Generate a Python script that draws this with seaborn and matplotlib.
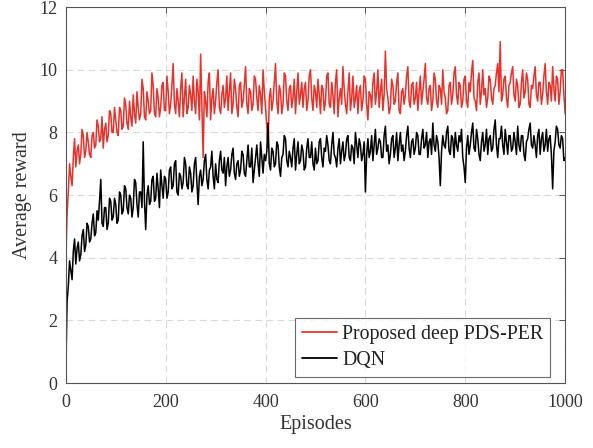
import numpy as np
import pandas as pd
import matplotlib
matplotlib.use("Agg")
import matplotlib.pyplot as plt
import seaborn as sns

# =========================
# DATA (un point toutes les 2.5 épisodes)
# =========================
episodes = [2.5 * i for i in range(401)]

reward_pds_per = [
    3.9, 5.4, 6.1, 7.0, 6.6, 6.3, 7.2, 7.8, 6.9, 7.4, 7.6, 7.0, 7.3, 8.1, 7.9, 7.2, 7.4, 8.0, 7.7, 7.3,
    7.2, 7.9, 8.0, 7.5, 7.6, 8.4, 8.2, 7.7, 7.8, 8.5, 7.5, 8.1, 8.3, 7.7, 7.9, 8.7, 8.6, 8.0, 8.0, 8.8,
    8.4, 8.0, 7.9, 8.8, 8.7, 8.1, 8.2, 9.1, 8.9, 8.3, 8.1, 9.0, 8.5, 8.2, 9.2, 8.6, 8.3, 9.3, 8.8, 8.4,
    8.6, 9.7, 9.4, 8.5, 8.4, 9.3, 9.0, 8.6, 8.7, 9.9, 9.5, 8.6, 8.5, 9.4, 9.1, 8.5, 8.8, 9.5, 9.6, 8.7,
    8.7, 9.8, 9.3, 8.6, 8.9, 9.5, 10.2, 8.9, 8.6, 9.4, 9.0, 8.5, 9.4, 9.9, 8.5, 9.1, 9.7, 8.6, 8.8, 9.5,
    9.2, 8.7, 9.8, 9.0, 8.6, 9.7, 9.3, 8.4, 10.5, 8.8, 7.2, 9.3, 9.0, 8.5, 9.6, 9.9, 8.4, 9.1, 9.4, 8.6,
    9.0, 9.6, 10.0, 8.8, 8.6, 9.2, 9.5, 8.8, 9.1, 9.8, 8.7, 9.3, 9.9, 8.6, 8.9, 9.7, 9.4, 8.8, 8.5, 9.5,
    9.6, 8.8, 9.0, 9.5, 10.1, 8.9, 8.6, 9.4, 9.3, 8.7, 8.9, 9.8, 9.7, 9.1, 8.7, 9.5, 9.2, 8.6, 10.0, 9.3,
    8.8, 8.2, 7.5, 9.1, 9.4, 8.7, 9.0, 9.6, 10.2, 9.0, 8.6, 9.5, 9.3, 8.6, 8.9, 9.9, 9.8, 9.0, 8.7, 9.4,
    9.5, 8.8, 9.1, 9.7, 8.6, 9.3, 9.9, 8.9, 9.2, 9.6, 8.8, 9.4, 9.6, 8.7, 9.0, 9.8, 10.0, 9.1, 8.7, 9.5,
    9.3, 8.8, 9.7, 9.2, 8.6, 9.5, 9.4, 8.7, 9.0, 9.8, 9.9, 8.9, 8.8, 9.6, 9.2, 8.6, 9.6, 10.0, 8.5, 9.1,
    9.4, 8.9, 10.1, 9.4, 8.9, 8.6, 9.3, 9.9, 8.7, 9.1, 9.8, 8.8, 9.1, 9.5, 8.6, 9.3, 9.5, 8.7, 9.0, 9.8,
    9.7, 8.9, 8.4, 9.3, 9.2, 8.8, 9.6, 9.9, 8.9, 9.3, 10.0, 8.8, 9.3, 9.7, 8.7, 9.2, 10.6, 9.4, 9.1, 8.6,
    8.8, 9.7, 9.5, 8.9, 9.0, 9.6, 9.9, 8.7, 8.6, 9.3, 9.4, 8.9, 9.2, 9.8, 10.1, 9.0, 8.8, 9.5, 9.6, 8.9,
    9.1, 9.6, 8.7, 9.3, 9.8, 8.9, 9.3, 9.7, 10.2, 9.1, 8.9, 9.4, 9.5, 8.7, 9.0, 9.9, 9.7, 9.0, 8.8, 9.5,
    9.4, 8.9, 10.0, 9.3, 9.1, 8.6, 8.7, 9.5, 9.6, 8.9, 9.2, 9.9, 10.1, 9.2, 8.9, 9.6, 9.5, 8.8, 9.0, 9.7,
    9.8, 9.0, 8.8, 9.6, 9.3, 9.9, 10.3, 9.1, 9.0, 8.7, 9.6, 9.9, 8.9, 9.3, 10.0, 9.2, 9.4, 8.8, 9.1, 9.8,
    9.7, 9.1, 8.9, 9.4, 9.5, 9.9, 10.2, 9.3, 10.9, 9.0, 9.2, 9.7, 9.8, 9.1, 8.8, 9.5, 9.6, 9.9, 10.1, 9.2,
    9.0, 9.7, 9.5, 8.8, 8.9, 9.6, 10.0, 9.1, 9.3, 9.9, 9.7, 8.9, 8.8, 9.5, 9.4, 9.8, 10.1, 9.2, 9.0, 9.6,
    9.6, 8.9, 9.2, 9.8, 10.2, 9.3, 8.9, 9.6, 9.5, 9.0, 10.1, 9.4, 9.0, 9.8, 9.7, 8.9, 9.3, 10.0, 10.0, 9.2,
    8.6,
]

reward_dqn = [
    0.4, 2.6, 3.1, 3.9, 3.6, 3.3, 4.2, 4.6, 3.8, 4.3, 4.5, 3.9, 4.1, 4.7, 4.9, 4.2, 4.4, 5.1, 5.0, 4.5,
    4.6, 5.1, 5.4, 4.7, 4.8, 5.5, 5.2, 5.8, 6.5, 5.1, 5.0, 5.6, 5.6, 4.9, 5.1, 5.9, 5.8, 5.2, 5.3, 5.9,
    5.7, 5.1, 5.2, 6.1, 6.0, 5.4, 5.5, 6.3, 6.2, 5.6, 5.4, 6.0, 5.9, 5.3, 5.6, 6.5, 6.4, 5.7, 5.3, 6.1,
    6.1, 5.6, 7.7, 5.8, 4.9, 6.0, 6.3, 5.7, 5.8, 6.5, 6.6, 5.8, 5.9, 6.7, 6.2, 5.6, 6.8, 6.3, 5.9, 6.6,
    6.5, 5.9, 6.1, 6.8, 6.9, 6.2, 6.3, 7.0, 7.1, 6.1, 6.0, 6.7, 6.6, 6.2, 6.4, 7.2, 7.0, 6.3, 6.2, 6.9,
    6.7, 6.1, 6.3, 7.0, 7.2, 6.4, 5.7, 6.6, 6.8, 6.3, 6.5, 7.1, 7.3, 6.5, 6.2, 6.8, 6.9, 7.4, 6.6, 6.2,
    7.0, 6.5, 6.4, 7.1, 7.4, 6.8, 6.7, 7.2, 6.3, 6.9, 7.2, 6.6, 6.8, 7.3, 7.5, 6.7, 6.5, 7.0, 7.1, 6.6,
    6.8, 7.4, 7.3, 6.7, 6.6, 7.1, 7.6, 6.9, 6.9, 7.5, 6.4, 6.8, 7.2, 7.6, 7.0, 6.6, 7.7, 7.2, 6.7, 7.3,
    7.1, 7.4, 8.3, 7.0, 6.8, 7.5, 7.4, 6.9, 7.0, 7.7, 7.6, 6.9, 6.6, 7.2, 7.3, 7.9, 7.8, 7.1, 6.9, 7.4,
    7.2, 6.9, 7.5, 7.8, 6.8, 7.3, 7.7, 7.0, 7.1, 7.6, 7.4, 6.8, 6.9, 7.5, 7.8, 7.2, 7.2, 7.7, 7.0, 6.8,
    7.5, 7.0, 7.1, 7.7, 7.8, 7.2, 6.9, 7.5, 7.4, 7.9, 7.6, 7.1, 7.0, 7.6, 8.0, 7.3, 7.2, 6.9, 7.5, 7.8,
    7.0, 7.4, 7.7, 7.1, 7.3, 7.8, 7.9, 7.2, 7.1, 7.6, 7.5, 7.0, 8.0, 7.6, 7.2, 7.8, 7.6, 7.1, 7.3, 7.7,
    6.1, 7.3, 7.8, 7.2, 7.4, 7.9, 7.1, 7.6, 8.1, 7.3, 7.5, 7.8, 7.7, 7.2, 7.2, 7.9, 8.2, 7.4, 7.6, 7.0,
    7.3, 7.8, 7.9, 7.2, 7.5, 8.0, 7.1, 7.6, 8.0, 7.4, 7.6, 7.1, 7.4, 7.9, 8.2, 7.5, 7.2, 7.7, 7.8, 7.3,
    7.5, 8.0, 7.9, 7.3, 7.3, 7.8, 8.1, 7.5, 7.6, 8.0, 7.2, 7.7, 7.8, 7.3, 8.3, 7.6, 7.4, 7.9, 7.7, 7.2,
    6.3, 7.4, 7.9, 7.6, 7.5, 8.0, 8.2, 7.4, 7.3, 7.9, 7.8, 7.2, 8.0, 7.6, 7.4, 7.9, 7.7, 8.1, 7.2, 6.9,
    6.4, 7.5, 7.9, 7.3, 7.6, 8.0, 8.3, 7.5, 7.4, 8.1, 7.8, 7.3, 7.1, 7.7, 8.0, 7.4, 7.6, 8.1, 7.3, 7.8,
    7.9, 7.4, 7.5, 8.1, 8.4, 7.6, 7.2, 7.8, 7.8, 8.2, 7.6, 7.3, 8.1, 7.7, 7.3, 7.9, 7.9, 7.4, 7.5, 8.0,
    7.7, 7.3, 8.2, 7.6, 7.4, 7.9, 7.9, 7.3, 7.1, 7.7, 7.8, 8.1, 8.3, 7.6, 7.5, 7.9, 7.6, 7.2, 7.9, 8.1,
    7.3, 7.8, 8.0, 7.4, 7.6, 8.1, 7.4, 7.8, 7.9, 7.3, 6.2, 7.4, 7.7, 8.2, 8.1, 7.6, 7.5, 7.9, 7.8, 7.1,
    7.2,
]

label_pds = "Proposed deep PDS-PER"
label_dqn = "DQN"

df = pd.concat([
    pd.DataFrame({"Episodes": episodes[:len(reward_pds_per)],
                  "reward": reward_pds_per, "method": label_pds}),
    pd.DataFrame({"Episodes": episodes[:len(reward_dqn)],
                  "reward": reward_dqn, "method": label_dqn}),
], ignore_index=True)

# =========================
# STYLE
# =========================
sns.set_theme(style="whitegrid")
plt.rcParams["font.family"] = ["Liberation Serif", "DejaVu Serif"]

fig = plt.figure(figsize=(5.93, 4.48), dpi=100)
ax = fig.add_axes([0.111, 0.145, 0.842, 0.839])

sns.lineplot(
    data=df, x="Episodes", y="reward", hue="method",
    palette={label_pds: "#e8312a", label_dqn: "black"},
    linewidth=1.1, ax=ax,
)

ax.set_xlim(0, 1000)
ax.set_ylim(0, 12)
ax.set_xticks(range(0, 1001, 200))
ax.set_yticks(range(0, 13, 2))
ax.set_xlabel("Episodes", fontsize=14.5, labelpad=3, color="#333333")
ax.set_ylabel("Average reward", fontsize=14.5, labelpad=5, color="#333333")

ax.set_facecolor("white")
ax.grid(True, linestyle=(0, (6, 4)), color="#d9d9d9", linewidth=0.8)
for s in ax.spines.values():
    s.set_color("#555555")
    s.set_linewidth(0.8)
ax.tick_params(direction="in", top=True, right=True, length=4,
               width=0.7, color="#555555", labelsize=13, labelcolor="#333333")
ax.tick_params(axis="x", pad=8)
ax.tick_params(axis="y", pad=6)

leg = ax.legend(
    loc="lower right", bbox_to_anchor=(0.97, 0.016),
    fontsize=14.3, frameon=True, fancybox=False, handlelength=1.75,
    handletextpad=0.25, borderpad=0.35, labelspacing=0.35,
    borderaxespad=0,
)
leg.get_frame().set_edgecolor("#444444")
leg.get_frame().set_linewidth(0.8)
for line in leg.get_lines():
    line.set_linewidth(1.3)
for t in leg.get_texts():
    t.set_color("#222222")

fig.savefig("out.png", dpi=100)
